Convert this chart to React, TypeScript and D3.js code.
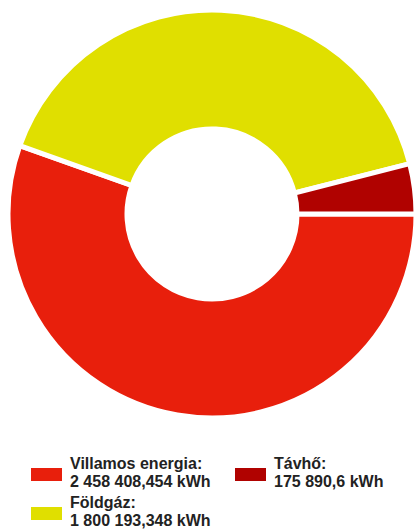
import React, { useEffect, useRef } from 'react';
import * as d3 from 'd3';

const labels = ['Villamos energia:', 'Földgáz:', 'Távhő:'];
const values = [2458408.454, 1800193.348, 175890.6];
const valueLabels = ['2 458 408,454 kWh', '1 800 193,348 kWh', '175 890,6 kWh'];
const colors = ['#E81F0C', '#E0DF00', '#B00200'];

export default function App() {
  const svgRef = useRef<SVGSVGElement>(null);

  useEffect(() => {
    if (!svgRef.current) return;
    const svg = d3.select(svgRef.current);
    svg.selectAll('*').remove();

    const cx = 212;
    const cy = 214;

    const pie = d3.pie<number>()
      .sort(null)
      .value(d => d)
      .startAngle(Math.PI / 2)
      .endAngle(Math.PI / 2 + 2 * Math.PI);

    const arc = d3.arc<d3.PieArcDatum<number>>()
      .innerRadius(85)
      .outerRadius(204);

    const g = svg.append('g').attr('transform', `translate(${cx},${cy})`);

    g.selectAll('path')
      .data(pie(values))
      .join('path')
      .attr('d', arc)
      .attr('fill', (_, i) => colors[i])
      .attr('stroke', '#fff')
      .attr('stroke-width', 5)
      .attr('stroke-linejoin', 'miter');

    // legend
    const legendPos = [
      { x: 31, y: 468 },
      { x: 31, y: 507 },
      { x: 235, y: 468 },
    ];

    const legend = svg.append('g')
      .style('font-family', '"Liberation Sans", Arial, sans-serif')
      .style('font-weight', 'bold')
      .style('font-size', '16px');

    labels.forEach((label, i) => {
      const p = legendPos[i];
      legend.append('rect')
        .attr('x', p.x)
        .attr('y', p.y)
        .attr('width', 31)
        .attr('height', 13)
        .attr('fill', colors[i]);
      const t = legend.append('text').attr('fill', '#222');
      t.append('tspan')
        .attr('x', p.x + 39)
        .attr('y', p.y + 1)
        .text(label);
      t.append('tspan')
        .attr('x', p.x + 39)
        .attr('y', p.y + 19)
        .text(valueLabels[i]);
    });
  }, []);

  return (
    <svg
      ref={svgRef}
      width={414}
      height={530}
      style={{ position: 'absolute', left: 0, top: 0, background: '#fff' }}
    />
  );
}
